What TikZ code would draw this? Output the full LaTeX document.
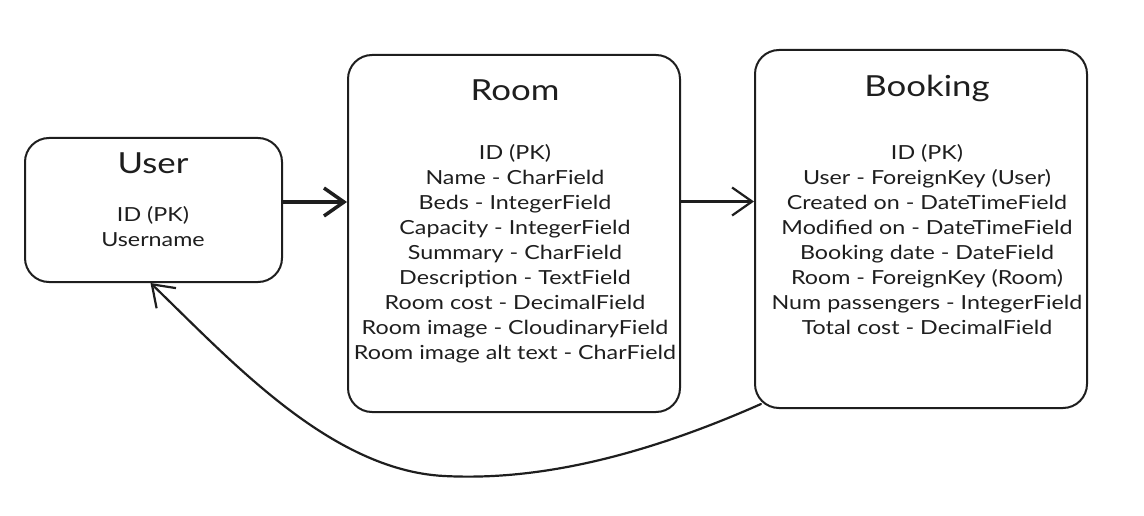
\documentclass[tikz,border=0pt]{standalone}
\usepackage{fontspec}
\setmainfont{Lato}[FakeStretch=1.2]
\usetikzlibrary{positioning,arrows.meta}
\definecolor{inkDark}{HTML}{1E1E1E}

\begin{document}
\begin{tikzpicture}[
  x=1pt, y=-1pt,
  font=\fontsize{19.4}{25}\selectfont,
  >={Straight Barb[length=20pt,width=28pt]},
  table/.style={rectangle, rounded corners=24pt, draw=inkDark,
                line width=2pt, inner sep=0pt},
  title/.style={font=\fontsize{29}{34}\selectfont, text=inkDark,
                inner sep=0pt, text height=22pt, text depth=6pt},
  fields/.style={align=center, text=inkDark, inner sep=0pt},
  link/.style={->, draw=inkDark, line width=2.2pt, line cap=round}
]
\useasboundingbox (0,0) rectangle (1144,516);

% ===== Tables =====
\node[table, minimum width=257pt, minimum height=144pt] (user) at (153.5,210) {};
\node[table, minimum width=332pt, minimum height=357pt] (room) at (514,233.5) {};
\node[table, minimum width=332pt, minimum height=358pt] (booking) at (921,229) {};

% ===== Titles =====
\node[title] (userTitle) at (153,166) {User};
\node[title] (roomTitle) at (515,93) {Room};
\node[title] (bookingTitle) at (927,89) {Booking};

% ===== Fields =====
\node[fields, below=26pt of userTitle] (userFields)
  {ID (PK)\\Username};
\node[fields, below=37pt of roomTitle] (roomFields)
  {ID (PK)\\Name - CharField\\Beds - IntegerField\\Capacity - IntegerField\\
   Summary - CharField\\Description - TextField\\Room cost - DecimalField\\
   Room image - CloudinaryField\\Room image alt text - CharField};
\node[fields, below=41pt of bookingTitle] (bookingFields)
  {ID (PK)\\User - ForeignKey (User)\\Created on - DateTimeField\\
   Modified on - DateTimeField\\Booking date - DateField\\
   Room - ForeignKey (Room)\\Num passengers - IntegerField\\
   Total cost - DecimalField};

% ===== Links =====
\draw[link, line width=3.5pt] ([yshift=8pt]user.east)
  -- ([yshift=8pt]user.east -| room.west);
\draw[link] ([yshift=32pt]room.east)
  -- ([yshift=32pt]room.east -| booking.west);

% ===== Booking back to User =====
\coordinate (bookingFoot) at ([xshift=7pt,yshift=5pt]booking.south west);
\coordinate (userFoot) at ([xshift=-3pt]user.south);
\coordinate (dip) at (444,476);
\draw[link] (bookingFoot) .. controls +(-140,62) and +(76,4) .. (dip)
  .. controls +(-114,-6) and +(80,77) .. (userFoot);

\end{tikzpicture}
\end{document}
